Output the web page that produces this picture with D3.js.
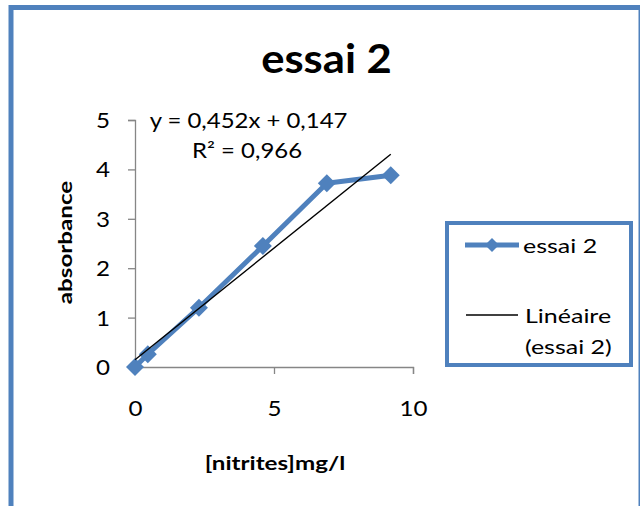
<!DOCTYPE html>
<html>
<head>
<meta charset="utf-8">
<script src="https://cdn.jsdelivr.net/npm/d3@7"></script>
<style>
  html, body { margin: 0; padding: 0; background: #fff; }
  svg { display: block; }
  text { font-family: Lato, "Open Sans", sans-serif; fill: #000; }
</style>
</head>
<body>
<svg id="chart" width="640" height="506"></svg>
<script>
// Calibration data: nitrite concentration (mg/l) vs absorbance
const concentrations = [0, 0.46, 2.3, 4.6, 6.9, 9.2];
const absorbances = [0, 0.26, 1.2, 2.45, 3.72, 3.88];
const xTicks = [0, 5, 10];
const yTicks = [0, 1, 2, 3, 4, 5];
// Linear trendline coefficients
const slope = 0.452;
const intercept = 0.147;
const rSquared = 0.966;

const title = "essai 2";
const seriesName = "essai 2";
const trendName = ["Linéaire", "(essai 2)"];
const xLabel = "[nitrites]mg/l";
const yLabel = "absorbance";

const blue = "#4F81BD";
const axisGrey = "#868686";
const fmt = v => d3.format(".3f")(v).replace(".", ",");

const svg = d3.select("#chart");

// Text placed at (x, y) and widened horizontally by sx
function label(parent, x, y, str, opts = {}) {
  const { size = 21, sx = 1, anchor = "start", weight = "normal", rotate = 0 } = opts;
  return parent.append("text")
    .attr("transform", `translate(${x},${y}) rotate(${rotate}) scale(${sx},1)`)
    .attr("text-anchor", anchor)
    .attr("font-size", size)
    .attr("font-weight", weight)
    .text(str);
}

// Outer chart frame
svg.append("rect")
  .attr("x", 11).attr("y", 7.5)
  .attr("width", 630).attr("height", 520)
  .attr("fill", "#fff")
  .attr("stroke", blue).attr("stroke-width", 5);

// Plot area
const plot = { left: 135, right: 413, top: 120, bottom: 367 };
const x = d3.scaleLinear().domain([0, 10]).range([plot.left, plot.right]);
const y = d3.scaleLinear().domain([0, 5]).range([plot.bottom, plot.top]);

// Title
label(svg, 326.5, 73, title, { size: 40, sx: 1.09, anchor: "middle", weight: "bold" });

// Axes
const xAxis = svg.append("g")
  .attr("transform", `translate(0,${plot.bottom})`)
  .call(d3.axisBottom(x).tickValues(xTicks).tickSize(7).tickFormat(d3.format("d")));
const yAxis = svg.append("g")
  .attr("transform", `translate(${plot.left},0)`)
  .call(d3.axisLeft(y).tickValues(yTicks).tickSize(7).tickFormat(d3.format("d")));

[xAxis, yAxis].forEach(g => {
  g.select(".domain").attr("stroke", axisGrey).attr("stroke-width", 1.3);
  g.selectAll(".tick line").attr("stroke", axisGrey).attr("stroke-width", 1.3);
  g.selectAll(".tick text")
    .attr("font-family", "Lato, 'Open Sans', sans-serif")
    .attr("font-size", 21).attr("fill", "#000")
    .attr("x", 0).attr("y", 0).attr("dy", 0);
});
xAxis.selectAll(".tick text")
  .attr("text-anchor", "middle")
  .attr("transform", "translate(0,48.5) scale(1.15,1)");
yAxis.selectAll(".tick text")
  .attr("text-anchor", "end")
  .attr("transform", "translate(-25,7.5) scale(1.15,1)");

// Axis titles
label(svg, plot.left + (plot.right - plot.left) / 2 + 1, 470, xLabel,
  { size: 19.5, sx: 1.24, anchor: "middle", weight: "bold" });
label(svg, 72, 242.5, yLabel,
  { size: 19.5, sx: 1.24, anchor: "middle", weight: "bold", rotate: -90 });

// Data series
const points = concentrations.map((c, i) => [c, absorbances[i]]);
const diamond = (s) => `M0,${-s}L${s},0L0,${s}L${-s},0Z`;

svg.append("path")
  .datum(points)
  .attr("fill", "none")
  .attr("stroke", blue).attr("stroke-width", 5)
  .attr("stroke-linejoin", "round")
  .attr("d", d3.line().x(d => x(d[0])).y(d => y(d[1])));

svg.append("g").selectAll("path")
  .data(points)
  .join("path")
  .attr("transform", d => `translate(${x(d[0])},${y(d[1])})`)
  .attr("d", diamond(9))
  .attr("fill", blue);

// Linear trendline across the data range
const xExtent = d3.extent(concentrations);
svg.append("line")
  .attr("x1", x(xExtent[0])).attr("y1", y(slope * xExtent[0] + intercept))
  .attr("x2", x(xExtent[1])).attr("y2", y(slope * xExtent[1] + intercept))
  .attr("stroke", "#000").attr("stroke-width", 1.4);

// Trendline equation
label(svg, 248.5, 128, `y = ${fmt(slope)}x + ${fmt(intercept)}`,
  { size: 21, sx: 1.14, anchor: "middle" });
label(svg, 247, 158, `R² = ${fmt(rSquared)}`,
  { size: 21, sx: 1.14, anchor: "middle" });

// Legend
const legend = svg.append("g");
legend.append("rect")
  .attr("x", 447).attr("y", 223)
  .attr("width", 184).attr("height", 142)
  .attr("fill", "#fff")
  .attr("stroke", blue).attr("stroke-width", 4);

legend.append("line")
  .attr("x1", 465).attr("x2", 519).attr("y1", 245).attr("y2", 245)
  .attr("stroke", blue).attr("stroke-width", 5);
legend.append("path")
  .attr("transform", "translate(492,245)")
  .attr("d", diamond(7))
  .attr("fill", blue);
label(legend, 523, 252.5, seriesName, { size: 20, sx: 1.25 });

legend.append("line")
  .attr("x1", 466).attr("x2", 518).attr("y1", 315).attr("y2", 315)
  .attr("stroke", "#000").attr("stroke-width", 1.4);
trendName.forEach((t, i) => label(legend, 525, 323 + i * 31, t, { size: 20, sx: 1.25 }));
</script>
</body>
</html>
